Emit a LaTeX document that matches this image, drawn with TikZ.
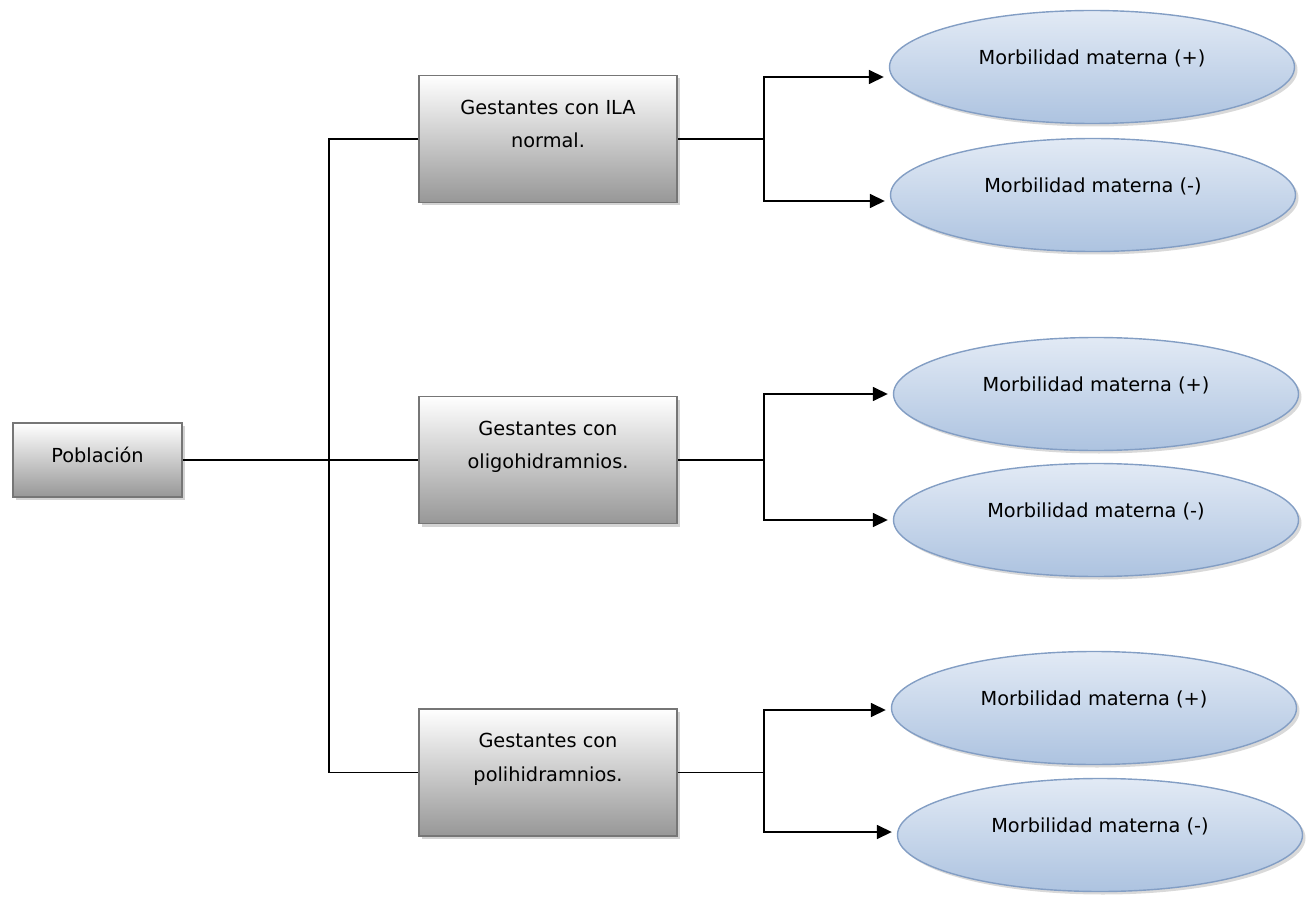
\documentclass[tikz,border=0pt]{standalone}
\usepackage{fontspec}
\setmainfont{DejaVu Sans}
\usepackage{xcolor}
\usepackage{tikz}
\usetikzlibrary{positioning,arrows.meta,shapes.geometric,shadows,calc}

\definecolor{boxtop}{HTML}{FFFFFF}
\definecolor{boxbot}{HTML}{979797}
\definecolor{boxline}{HTML}{767676}
\definecolor{elltop}{HTML}{E2EAF5}
\definecolor{ellbot}{HTML}{ADC3E0}
\definecolor{ellline}{HTML}{839EC4}

\begin{document}
\begin{tikzpicture}[
  every node/.style={font=\fontsize{11}{19}\selectfont},
  box/.style={
    draw=boxline, line width=0.9pt, align=center,
    top color=boxtop, bottom color=boxbot,
    minimum width=51.6mm, minimum height=25.4mm, text depth=6mm,
    drop shadow={shadow xshift=0.6mm, shadow yshift=-0.6mm, opacity=0.35, fill=gray},
  },
  start/.style={box, minimum width=33.8mm, minimum height=14.8mm, text depth=2mm},
  outcome/.style={
    ellipse, draw=ellline, line width=0.8pt, align=center,
    top color=elltop, bottom color=ellbot,
    minimum width=81mm, minimum height=22.6mm, text depth=4mm,
    drop shadow={shadow xshift=0.6mm, shadow yshift=-0.6mm, opacity=0.3, fill=gray},
  },
  link/.style={line width=0.9pt},
  arr/.style={-{Triangle[length=3mm,width=2.8mm]}, line width=0.9pt, shorten >=1mm},
]
\useasboundingbox (0,0) rectangle (26.12,-17.96);

\node[start] (pob) at (1.95,-9.2) {Población};

\node[box] (ila) at (10.96,-2.78) {Gestantes con ILA\\normal.};
\node[box] (oli) at (10.96,-9.2) {Gestantes con\\oligohidramnios.};
\node[box] (pol) at (10.96,-15.45) {Gestantes con\\polihidramnios.};

\node[outcome] (ilap) at (21.84,-1.34) {Morbilidad materna (+)};
\node[outcome] (ilan) at (21.86,-3.9) {Morbilidad materna (-)};
\node[outcome] (olip) at (21.92,-7.88) {Morbilidad materna (+)};
\node[outcome] (olin) at (21.92,-10.4) {Morbilidad materna (-)};
\node[outcome] (polp) at (21.88,-14.16) {Morbilidad materna (+)};
\node[outcome] (poln) at (22.0,-16.7) {Morbilidad materna (-)};

% tronco principal
\coordinate (tr) at (6.58,-9.2);
\draw[link] (pob.east) -- (oli.west);
\draw[link] (ila.west) -| (tr) |- (pol.west);

% ramas hacia los desenlaces
\foreach \g/\p/\n/\dyp/\dyn in {ila/ilap/ilan/-0.2/-0.12, oli/olip/olin/0/0, pol/polp/poln/-0.04/0.06}{
  \draw[link] (\g.east) -- ++(1.72,0) coordinate (\g-b);
  \draw[arr] (\g-b) |- ($(\p.west)+(0,\dyp)$);
  \draw[arr] (\g-b) |- ($(\n.west)+(0,\dyn)$);
}

\end{tikzpicture}
\end{document}
